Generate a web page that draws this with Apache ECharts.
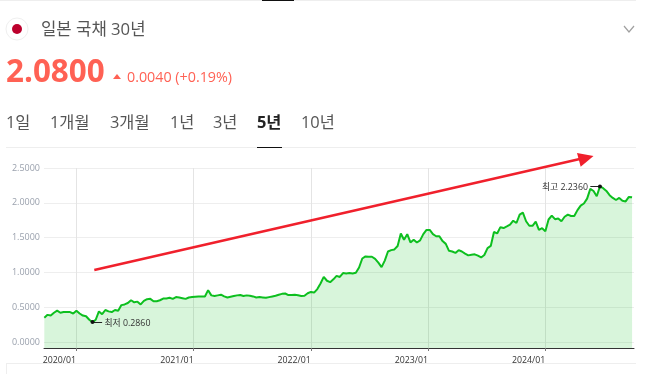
<!DOCTYPE html>
<html><head><meta charset="utf-8">
<style>html,body{margin:0;padding:0;background:#fff}#c{width:648px;height:374px}</style>
<script src="https://cdn.jsdelivr.net/npm/echarts@6/dist/echarts.min.js"></script>
</head><body><div id="c"></div>
<script>
const seriesValues = [
.35,.39,.38,.42,.45,.42,.43,.43,.43,.41,.45,.41,.38,.37,.32,.286,.32,.44,.40,.46,
.44,.43,.46,.45,.53,.54,.56,.60,.57,.58,.54,.59,.615,.62,.585,.585,.60,.625,.625,.635,
.62,.645,.64,.63,.62,.64,.645,.65,.655,.655,.655,.745,.67,.66,.67,.68,.655,.64,.65,.66,
.67,.675,.66,.67,.665,.655,.64,.645,.64,.635,.645,.655,.665,.68,.692,.697,.675,.675,.678,.672,
.662,.665,.70,.72,.71,.76,.84,.935,.88,.86,.90,.95,.935,.99,.985,.99,.985,.995,1.07,1.20,
1.23,1.225,1.225,1.195,1.14,1.075,1.17,1.30,1.32,1.33,1.38,1.56,1.47,1.55,1.43,1.47,1.43,1.46,1.55,1.61,
1.61,1.55,1.52,1.52,1.45,1.41,1.31,1.30,1.28,1.32,1.30,1.27,1.245,1.255,1.26,1.24,1.215,1.25,1.35,1.38,
1.58,1.56,1.65,1.637,1.66,1.685,1.743,1.71,1.83,1.86,1.735,1.67,1.67,1.73,1.61,1.635,1.59,1.76,1.815,1.765,
1.775,1.735,1.80,1.83,1.81,1.81,1.895,1.96,1.99,2.06,2.20,2.17,2.095,2.236,2.21,2.17,2.11,2.07,2.04,2.07,
2.03,2.02,2.085,2.08];
const startDate = Date.UTC(2019, 8, 24);
const stepDays = 10;
const dates = seriesValues.map((_, i) => startDate + i * stepDays * 86400000);
const yearTicks = [2020, 2021, 2022, 2023, 2024].map(y => Date.UTC(y, 0, 1));
const valueTicks = [0, 0.5, 1, 1.5, 2, 2.5];
const tabs = [['1일',6],['1개월',50],['3개월',110],['1년',170],['3년',213],['5년',257],['10년',301]];
const lowIndex = 15, highIndex = 173, lowLeaderEnd = 18, highLeaderStart = 170;

const FF = '"Open Sans","Noto Sans CJK KR",sans-serif';
const RED = '#ff6154';
const text = (x, y, t, size, fill, extra) => ({type:'text', x, y, silent:true,
  style:Object.assign({text:t, fontSize:size, fill, fontFamily:FF, textVerticalAlign:'middle'}, extra||{})});
const rect = (x, y, w, h, fill) => ({type:'rect', shape:{x,y,width:w,height:h}, style:{fill}, silent:true});

const chrome = [
  rect(0,0,636,1,'#eeeeee'), rect(262,0,32,1,'#111111'),
  {type:'circle', shape:{cx:17,cy:29,r:11}, style:{fill:'#fff',stroke:'#efefef',lineWidth:1}, silent:true},
  {type:'circle', shape:{cx:17,cy:29,r:5}, style:{fill:'#bc002d'}, silent:true},
  text(41,30,'일본 국채 30년',16.7,'#555555'),
  {type:'polyline', shape:{points:[[624,26],[629,32],[634,26]]}, style:{stroke:'#a0a0a0',lineWidth:1.2,fill:null}, silent:true},
  text(6,73,'2.0800',31.4,RED,{fontWeight:'bold'}),
  {type:'polygon', shape:{points:[[113,79],[121,79],[117,74]]}, style:{fill:RED}, silent:true},
  text(127,77.5,'0.0040 (+0.19%)',14.3,RED),
  ...tabs.map(([t,x]) => text(x,123.5,t,16.4,t==='5년'?'#222222':'#555555',t==='5년'?{fontWeight:'bold'}:{})),
  rect(6,147,630,1,'#eeeeee'), rect(257,147,25,1,'#111111'),
  rect(6,363,630,1,'#eeeeee'), rect(6,363,1,11,'#eeeeee'),
  {type:'line', shape:{x1:94.3,y1:270,x2:582,y2:158.5}, style:{stroke:'#f0202c',lineWidth:2.5}, silent:true, z:50},
  {type:'polygon', shape:{points:[[577,153],[593.5,156],[580.7,166.7]]}, style:{fill:'#f0202c'}, silent:true, z:50}
];

const chart = echarts.init(document.getElementById('c'), null, {renderer:'canvas'});
chart.setOption({
  animation:false, backgroundColor:'#fff',
  grid:{left:44, right:14, top:168, bottom:26},
  xAxis:{type:'value', min:Date.UTC(2019,8,23), max:Date.UTC(2024,9,3), scale:true,
    axisLine:{onZero:false,lineStyle:{color:'#333333',width:1}},
    axisTick:{show:true,length:3,lineStyle:{color:'#777777'},customValues:yearTicks},
    axisLabel:{customValues:yearTicks, align:'right', margin:8, fontSize:8.8, color:'#333333', fontFamily:FF, hideOverlap:false,
      formatter:v=>{const d=new Date(v);return d.getUTCFullYear()+'/'+String(d.getUTCMonth()+1).padStart(2,'0');}},
    splitLine:{show:true,lineStyle:{color:'#e4e4e4',width:1}}},
  yAxis:{type:'value', min:-0.086, max:2.5,
    axisLine:{show:false}, axisTick:{show:false,customValues:valueTicks},
    axisLabel:{customValues:valueTicks, margin:4, fontSize:9, color:'#9aa1ad', fontFamily:FF, formatter:v=>v.toFixed(4)},
    splitLine:{show:true,lineStyle:{color:'#eeeeee',width:1}}},
  series:[{type:'line', data:dates.map((d,i)=>[d,seriesValues[i]]), showSymbol:false, smooth:false,
    lineStyle:{color:'#0dbf1f',width:2}, areaStyle:{color:'#0dbf1f',opacity:0.16,origin:'start'},
    markLine:{silent:true, symbol:'none', animation:false, label:{show:false},
      lineStyle:{color:'#222222',width:1,type:'solid'},
      data:[
        [{coord:[dates[lowIndex],seriesValues[lowIndex]]},{coord:[dates[lowLeaderEnd],seriesValues[lowIndex]]}],
        [{coord:[dates[highLeaderStart],seriesValues[highIndex]]},{coord:[dates[highIndex],seriesValues[highIndex]]}]
      ]},
    markPoint:{silent:true, animation:false, symbol:'circle', symbolSize:4, itemStyle:{color:'#111111'},
      label:{show:true,fontSize:8.8,color:'#333333',fontFamily:FF},
      data:[
        {coord:[dates[lowIndex],seriesValues[lowIndex]], label:{position:'right',distance:10,offset:[0,1],formatter:'최저 '+seriesValues[lowIndex].toFixed(4)}},
        {coord:[dates[highIndex],seriesValues[highIndex]], label:{position:'left',distance:10,offset:[0,1],formatter:'최고 '+seriesValues[highIndex].toFixed(4)}}
      ]}
  }],
  graphic:chrome
});
</script></body></html>
